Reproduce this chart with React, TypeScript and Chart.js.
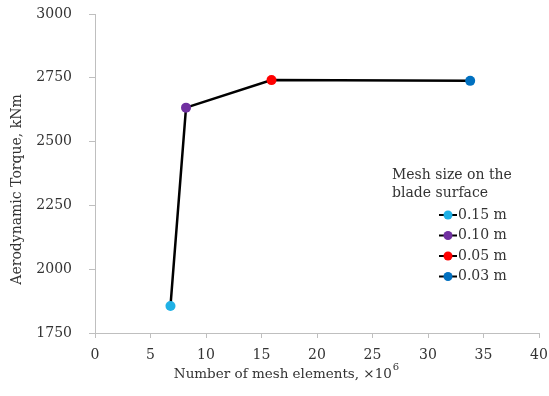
import React, { useEffect, useRef } from 'react';
import { Chart, registerables } from 'chart.js';

Chart.register(...registerables);

// ---- data ----
const meshElements = [6.8, 8.2, 15.9, 33.8];
const torque = [1856, 2633, 2741, 2738];
const meshSizeLabels = ['0.15 m', '0.10 m', '0.05 m', '0.03 m'];
const pointColors = ['#1fb1e6', '#7030a0', '#ff0000', '#0070c0'];
const xRange = [0, 40];
const xStep = 5;
const yRange = [1750, 3000];
const yStep = 250;
const legendTitle = ['Mesh size on the', 'blade surface'];
const xTitle = 'Number of mesh elements, \u00d710';
const xTitleExp = '6';
const yTitle = 'Aerodynamic Torque, kNm';

const FONT = '"DejaVu Serif", serif';
const TEXT = '#333333';
const AXIS = '#bfbfbf';

const overlayPlugin = {
  id: 'overlayText',
  afterDraw(chart: any) {
    const ctx = chart.ctx as CanvasRenderingContext2D;
    const area = chart.chartArea;
    ctx.save();
    ctx.fillStyle = TEXT;
    ctx.textBaseline = 'middle';
    ctx.font = `14px ${FONT}`;

    // y title
    ctx.save();
    ctx.translate(17, area.top + (area.bottom - area.top) / 2 + 16);
    ctx.rotate(-Math.PI / 2);
    ctx.textAlign = 'center';
    ctx.fillText(yTitle, 0, 0);
    ctx.restore();

    // x title with superscript
    ctx.font = `13.5px ${FONT}`;
    ctx.textAlign = 'left';
    const w1 = ctx.measureText(xTitle).width;
    ctx.font = `10px ${FONT}`;
    const w2 = ctx.measureText(xTitleExp).width;
    const cx = area.left + (area.right - area.left) / 2 - 31;
    const start = cx - (w1 + w2) / 2;
    const ty = 374;
    ctx.font = `13.5px ${FONT}`;
    ctx.fillText(xTitle, start, ty);
    ctx.font = `10px ${FONT}`;
    ctx.fillText(xTitleExp, start + w1 + 1, ty - 7);

    // legend
    ctx.font = `14px ${FONT}`;
    const lx = 392;
    legendTitle.forEach((t, i) => ctx.fillText(t, lx, 175 + i * 18.5));
    meshSizeLabels.forEach((label, i) => {
      const y = 215 + i * 20.5;
      ctx.strokeStyle = '#000';
      ctx.lineWidth = 2;
      ctx.beginPath();
      ctx.moveTo(439, y);
      ctx.lineTo(457, y);
      ctx.stroke();
      ctx.fillStyle = pointColors[i];
      ctx.beginPath();
      ctx.arc(448, y, 4.5, 0, Math.PI * 2);
      ctx.fill();
      ctx.fillStyle = TEXT;
      ctx.fillText(label, 458, y);
    });
    ctx.restore();
  },
};

export default function App() {
  const canvasRef = useRef<HTMLCanvasElement | null>(null);

  useEffect(() => {
    if (!canvasRef.current) return;
    const pointDatasets = meshSizeLabels.map((label, i) => ({
      label,
      data: [{ x: meshElements[i], y: torque[i] }],
      backgroundColor: pointColors[i],
      borderColor: pointColors[i],
      pointRadius: 5,
      pointBorderWidth: 0,
      showLine: false,
      order: 0,
    }));
    const lineDataset = {
      label: 'line',
      data: meshElements.map((x, i) => ({ x, y: torque[i] })),
      borderColor: '#000000',
      borderWidth: 2.5,
      pointRadius: 0,
      showLine: true,
      fill: false,
      order: 1,
    };

    const chart = new Chart(canvasRef.current, {
      type: 'scatter',
      data: { datasets: [...pointDatasets, lineDataset] as any },
      options: {
        animation: false,
        responsive: false,
        layout: { padding: { top: 14, right: 10, left: 0, bottom: 0 } },
        plugins: {
          legend: { display: false },
          tooltip: { enabled: false },
        },
        scales: {
          x: {
            type: 'linear',
            min: xRange[0],
            max: xRange[1],
            ticks: {
              stepSize: xStep,
              color: TEXT,
              font: { family: FONT, size: 14 },
              padding: 9,
              maxRotation: 0,
              callback: (v: any) => String(v),
            },
            grid: { display: true, drawOnChartArea: false, tickLength: 5, color: AXIS },
            border: { display: true, color: AXIS, width: 1 },
            afterFit: (s: any) => {
              s.height = 63;
              s.paddingLeft = 0;
              s.paddingRight = 0;
            },
          },
          y: {
            type: 'linear',
            min: yRange[0],
            max: yRange[1],
            ticks: {
              stepSize: yStep,
              color: TEXT,
              font: { family: FONT, size: 14 },
              padding: 17,
              callback: (v: any) => String(v),
            },
            grid: { display: true, drawOnChartArea: false, tickLength: 6, color: AXIS },
            border: { display: true, color: AXIS, width: 1 },
            afterFit: (s: any) => {
              s.width = 95;
              s.paddingTop = 0;
              s.paddingBottom = 0;
            },
          },
        },
      } as any,
      plugins: [overlayPlugin],
    });
    return () => chart.destroy();
  }, []);

  return (
    <div style={{ position: 'fixed', left: 0, top: 0, width: 549, height: 396, background: '#fff' }}>
      <canvas ref={canvasRef} width={549} height={396} style={{ display: 'block' }} />
    </div>
  );
}
